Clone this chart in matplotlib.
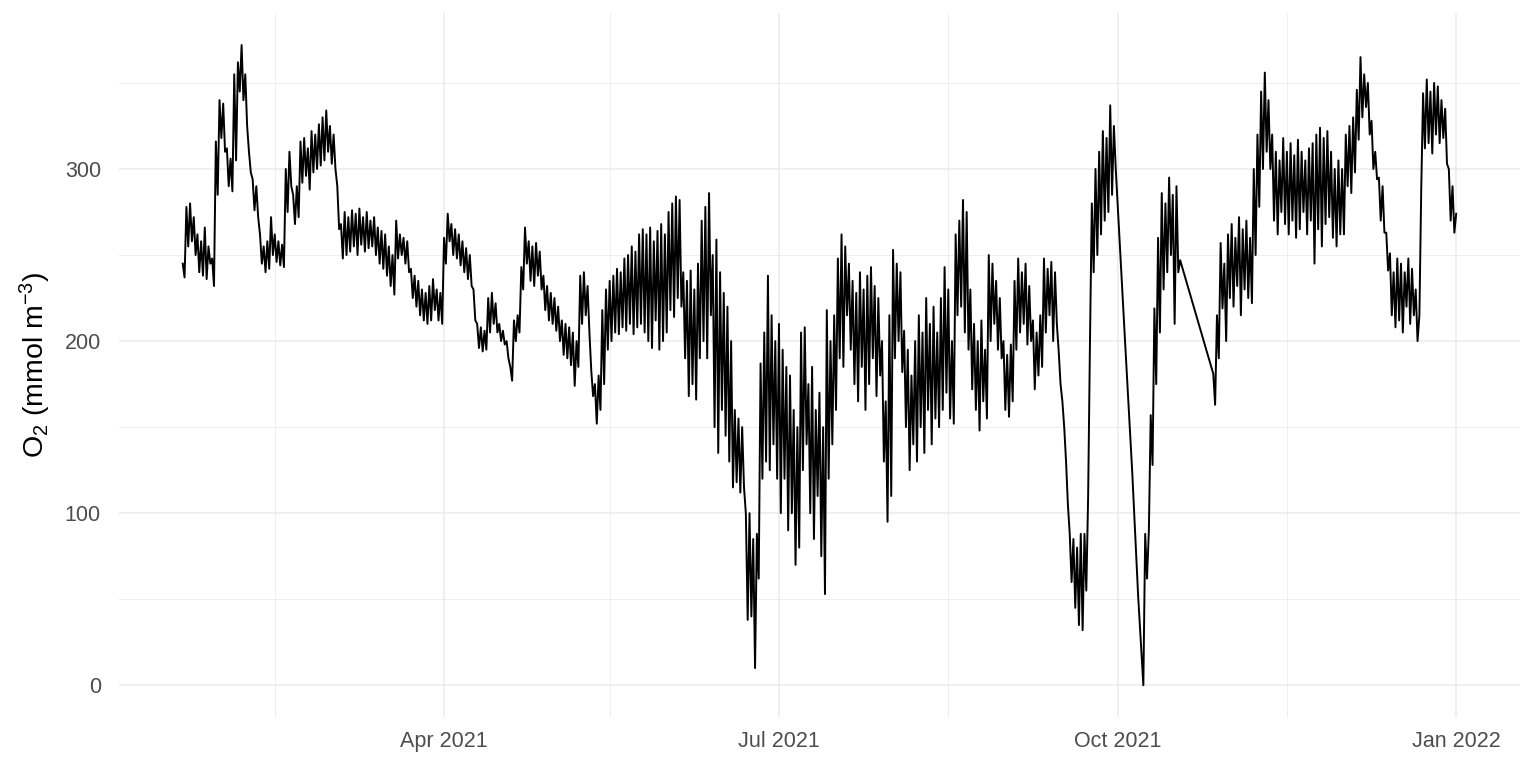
import numpy as np
import pandas as pd
import matplotlib
matplotlib.use("Agg")
import matplotlib.pyplot as plt
import matplotlib.dates as mdates

# O2 readings, two per day (00:00 and 12:00)
jan_start = "2021-01-20"
jan = [245, 237, 278, 255, 280, 258, 272, 250, 262, 240, 258, 238, 266, 236,
       255, 245, 248, 232, 316, 285, 340, 318, 338, 310]
feb = [312, 290, 306, 287, 355, 305, 362, 345, 372, 340, 355, 325, 310, 298,
       294, 276, 290, 272, 262, 245, 255, 240, 258, 242, 272, 250, 262, 246,
       258, 244, 256, 243, 300, 275, 310, 290, 285, 268, 290, 272, 316, 292,
       318, 296, 312, 288, 322, 298, 320, 300, 326, 302, 330, 305, 334, 310]
mar = [325, 303, 320, 300, 290, 265, 268, 248, 275, 250, 272, 252, 276, 255,
       274, 250, 277, 256, 272, 252, 275, 254, 270, 255, 272, 250, 266, 245,
       264, 242, 262, 238, 255, 232, 250, 227, 270, 248, 262, 250, 260, 245,
       258, 240, 242, 225, 238, 220, 235, 215, 230, 212, 228, 210, 232, 212,
       236, 218, 230, 212, 228, 210]
apr = [260, 245, 274, 258, 268, 250, 265, 248, 262, 244, 258, 240, 254, 236,
       250, 232, 230, 212, 210, 196, 208, 194, 206, 195, 225, 205, 228, 210,
       222, 205, 210, 200, 206, 198, 200, 190, 185, 177, 212, 200, 215, 205,
       243, 230, 266, 245, 258, 235, 255, 232, 257, 238, 252, 230, 238, 218,
       232, 212, 228, 210]
may = [225, 206, 220, 200, 212, 192, 210, 190, 208, 186, 205, 174, 200, 185,
       238, 210, 240, 215, 232, 205, 183, 168, 175, 152, 180, 160, 218, 175,
       230, 195, 235, 200, 238, 205, 242, 204, 240, 208, 248, 206, 250, 210,
       255, 204, 252, 208, 262, 210, 265, 205, 262, 200, 266, 196, 258, 212,
       264, 195, 268, 200, 262, 205]
jun = [275, 218, 280, 214, 284, 225, 282, 220, 240, 190, 235, 168, 241, 175,
       230, 166, 245, 190, 270, 200, 278, 190, 286, 215, 250, 150, 259, 135,
       240, 160, 228, 145, 220, 130, 200, 115, 160, 118, 155, 112, 150, 115,
       100, 38, 100, 40, 85, 10, 88, 62, 187, 120, 205, 130, 238, 125,
       215, 140, 200, 120]
jul = [210, 100, 195, 120, 185, 90, 180, 100, 160, 70, 150, 80, 205, 125,
       208, 140, 175, 100, 185, 85, 160, 110, 170, 75, 150, 53, 218, 120,
       200, 140, 215, 160, 248, 190, 262, 185, 255, 215, 245, 195, 235, 175,
       228, 165, 240, 185, 230, 160, 238, 175, 243, 190, 232, 168, 225, 180,
       200, 130, 165, 95, 215, 110]
aug = [253, 190, 245, 200, 240, 182, 206, 150, 195, 125, 180, 140, 200, 130,
       215, 150, 205, 135, 225, 160, 210, 140, 220, 155, 205, 150, 225, 160,
       243, 170, 230, 155, 200, 152, 262, 215, 270, 220, 282, 205, 275, 195,
       230, 172, 210, 160, 200, 148, 212, 165, 195, 155, 250, 200, 245, 210,
       235, 195, 225, 190, 200, 160]
sep = [192, 156, 198, 165, 235, 195, 248, 205, 240, 210, 245, 198, 232, 200,
       212, 172, 205, 180, 215, 185, 248, 205, 242, 215, 246, 200, 240, 210,
       194, 175, 165, 150, 130, 105, 88, 60, 85, 45, 80, 35, 88, 32, 88, 55,
       110, 200, 280, 240, 300, 250, 310, 262, 322, 270, 318, 275, 337, 285,
       325, 300]
# early-October decline (irregular timestamps)
decline_times = ["2021-10-01 00:00", "2021-10-03 00:00", "2021-10-05 00:00",
                 "2021-10-06 14:00"]
decline = [280, 201, 123, 52]
oct_a_start = "2021-10-08"
oct_a = [0, 88, 62, 90, 157, 128, 219, 175, 260, 205, 286, 230, 280, 240,
         295, 250, 285, 210, 290, 240, 247]
oct_b_start = "2021-10-27"
oct_b = [181, 163, 215, 190, 257, 219, 245, 200, 262, 225]
nov = [268, 220, 260, 232, 272, 215, 265, 230, 270, 225, 260, 222, 300, 250,
       320, 278, 345, 300, 356, 310, 340, 300, 320, 270, 310, 262, 305, 275,
       318, 268, 310, 262, 315, 270, 308, 260, 317, 265, 310, 275, 305, 262,
       312, 270, 315, 245, 320, 265, 324, 255, 318, 268, 322, 272, 310, 260,
       300, 255, 305, 262]
dec = [300, 262, 320, 290, 325, 286, 330, 298, 346, 317, 365, 330, 355, 336,
       350, 320, 328, 300, 310, 294, 295, 270, 290, 263, 263, 241, 251, 215,
       240, 208, 248, 212, 245, 205, 240, 220, 248, 210, 242, 215, 230, 200,
       215, 288, 344, 312, 352, 315, 345, 309, 350, 320, 348, 315, 340, 318,
       335, 303, 300, 270, 290, 263, 274]

y_ticks = [0, 100, 200, 300]
y_minor = [50, 150, 250, 350]
x_ticks = ["2021-04-01", "2021-07-01", "2021-10-01", "2022-01-01"]
x_minor = ["2021-02-14", "2021-05-16", "2021-08-16", "2021-11-16"]
y_label = r"O$_2$ (mmol m$^{-3}$)"


def half_daily(start, vals):
    t = pd.Timestamp(start) + pd.to_timedelta(np.arange(len(vals)) * 12, unit="h")
    return list(t), list(vals)


times, values = [], []
t, v = half_daily(jan_start, jan + feb + mar + apr + may + jun + jul + aug + sep)
times += t; values += v
times += [pd.Timestamp(s) for s in decline_times]; values += decline
for start, vals in [(oct_a_start, oct_a), (oct_b_start, oct_b + nov + dec)]:
    t, v = half_daily(start, vals)
    times += t; values += v

plt.rcParams["font.family"] = ["Liberation Sans", "DejaVu Sans"]
plt.rcParams["mathtext.fontset"] = "custom"
plt.rcParams["mathtext.rm"] = "Liberation Sans"
plt.rcParams["mathtext.it"] = "Liberation Sans:italic"

fig = plt.figure(figsize=(15.36, 7.68), dpi=100)
ax = fig.add_axes([0.0775, 0.066, 0.912, 0.917])

tnum = mdates.date2num(pd.DatetimeIndex(times).to_pydatetime())
vals = np.array(values, float)
ax.plot(tnum, vals, color="black", lw=1.4, zorder=3)

xmin, xmax = tnum.min(), tnum.max()
pad = 0.05 * (xmax - xmin)
ax.set_xlim(xmin - pad, xmax + pad)
ymin, ymax = vals.min(), vals.max()
ypad = 0.05 * (ymax - ymin)
ax.set_ylim(ymin - ypad, ymax + ypad)

ax.set_xticks(mdates.date2num(pd.to_datetime(x_ticks).to_pydatetime()))
ax.set_xticklabels([pd.Timestamp(s).strftime("%b %Y") for s in x_ticks])
ax.set_xticks(mdates.date2num(pd.to_datetime(x_minor).to_pydatetime()), minor=True)
ax.set_yticks(y_ticks)
ax.set_yticks(y_minor, minor=True)

ax.grid(which="major", color="#EBEBEB", lw=1.1, zorder=0)
ax.grid(which="minor", color="#EBEBEB", lw=0.6, zorder=0)
ax.set_axisbelow(True)
for s in ax.spines.values():
    s.set_visible(False)
ax.tick_params(which="both", length=0)
ax.tick_params(axis="both", labelsize=15.5, labelcolor="#4D4D4D")
ax.tick_params(axis="x", pad=10)
ax.tick_params(axis="y", pad=13)
ax.set_ylabel(y_label, fontsize=20.5, color="black")
ax.yaxis.set_label_coords(-0.047, 0.5)

fig.savefig("out.png", dpi=100)
